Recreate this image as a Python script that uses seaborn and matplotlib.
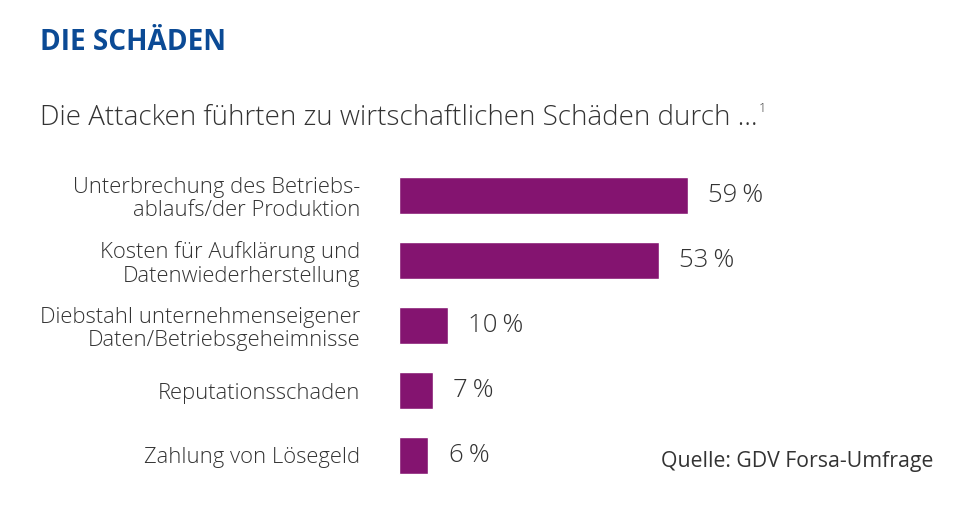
import matplotlib
matplotlib.use("Agg")
import matplotlib.pyplot as plt
import pandas as pd
import seaborn as sns

# Data
categories = [
    "Unterbrechung des Betriebs-\nablaufs/der Produktion",
    "Kosten für Aufklärung und\nDatenwiederherstellung",
    "Diebstahl unternehmenseigener\nDaten/Betriebsgeheimnisse",
    "Reputationsschaden",
    "Zahlung von Lösegeld",
]
values = [59, 53, 10, 7, 6]
value_labels = ["59\u2009%", "53\u2009%", "10\u2009%", "7\u2009%", "6\u2009%"]

df = pd.DataFrame({"kategorie": categories, "anteil": values})

sns.set_theme(style="white")
plt.rcParams["font.family"] = ["Open Sans", "DejaVu Sans"]

W, H = 975, 514
fig = plt.figure(figsize=(W / 100, H / 100), dpi=100)
fig.patch.set_facecolor("white")

# axes placed in pixel units: value 0 at x=399, 4.9 px per percent
left, right = 399, 399 + 490
top, bottom = 163, 488
ax = fig.add_axes([left / W, 1 - bottom / H, (right - left) / W, (bottom - top) / H])

purple = "#841470"
text_col = "#333333"

sns.barplot(data=df, y="kategorie", x="anteil", orient="h", color=purple,
            width=0.58, saturation=1, ax=ax)
ax.set_xlim(0, 100)
ax.set_ylim(4.5, -0.5)

for s in ax.spines.values():
    s.set_visible(False)
ax.set_xticks([])
ax.set_xlabel("")
ax.set_ylabel("")
ax.tick_params(axis="y", length=0, pad=28)
ax.set_yticks(range(len(categories)))
ax.set_yticklabels(categories, fontsize=15.8, color=text_col, linespacing=1.15,
                   multialignment="right", fontweight="light")

ax.bar_label(ax.containers[0], labels=value_labels, padding=14.5,
             fontsize=18.5, color=text_col, fontweight="light")

# titles
fig.text(40 / W, 1 - 42 / H, "DIE SCHÄDEN", fontsize=20.2, fontweight="bold",
         color="#0b4a95", va="center", ha="left")
sub = fig.text(40 / W, 1 - 118 / H, "Die Attacken führten zu wirtschaftlichen Schäden durch …",
               fontsize=20, color=text_col, va="center", ha="left", fontweight="light")
fig.canvas.draw()
bb = sub.get_window_extent()
fig.text((bb.x1 + 1) / W, 1 - 108 / H, "1", fontsize=9, color=text_col,
         va="center", ha="left", fontweight="light")

fig.text(933 / W, 1 - 462 / H, "Quelle: GDV Forsa-Umfrage", fontsize=15.3,
         color=text_col, va="center", ha="right")

fig.savefig("out.png", dpi=100, facecolor="white")
